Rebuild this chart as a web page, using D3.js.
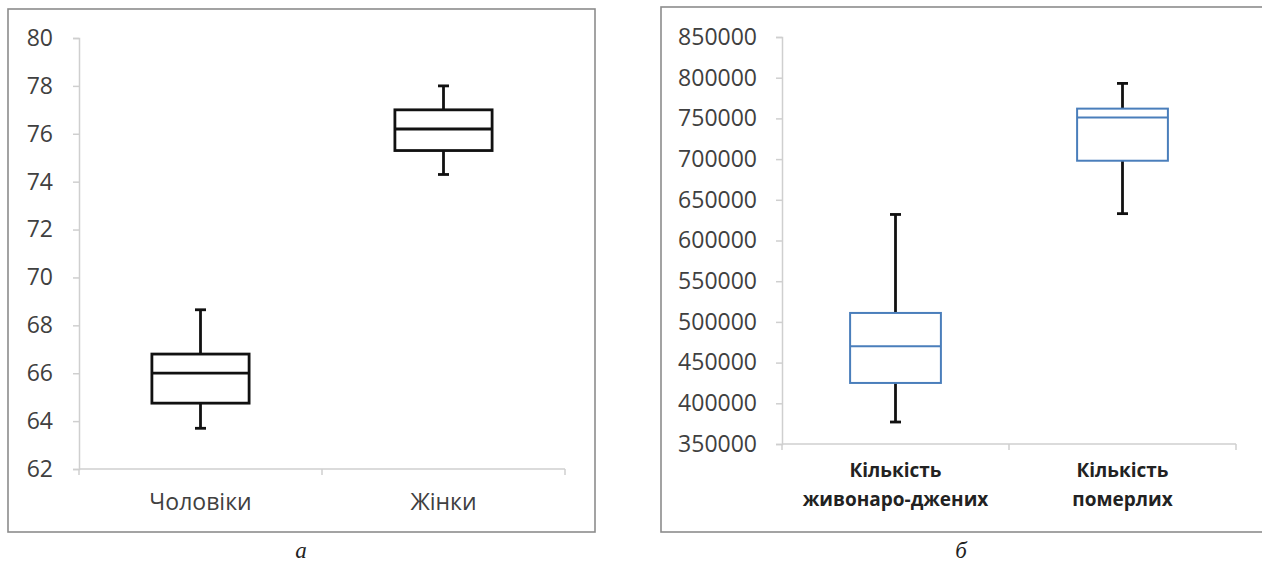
<!DOCTYPE html>
<html><head><meta charset="utf-8">
<script src="https://cdn.jsdelivr.net/npm/d3@7"></script>
<style>
html,body{margin:0;padding:0;background:#fff;overflow:hidden;}
svg{display:block;}
</style></head>
<body>
<svg id="c" width="1262" height="565"></svg>
<script>
// Chart (а)
const catsA = ["Чоловіки", "Жінки"];
const minA = [63.7, 74.3];
const q1A = [64.75, 75.3];
const medA = [66.0, 76.2];
const q3A = [66.8, 77.0];
const maxA = [68.65, 78.0];
const ticksA = [62, 64, 66, 68, 70, 72, 74, 76, 78, 80];

// Chart (б)
const catsB = [["Кількість", "живонаро-джених"], ["Кількість", "померлих"]];
const minB = [377000, 633000];
const q1B = [425000, 698000];
const medB = [470000, 751000];
const q3B = [511000, 762000];
const maxB = [632000, 793000];
const ticksB = [350000, 400000, 450000, 500000, 550000, 600000, 650000, 700000, 750000, 800000, 850000];

const svg = d3.select("#c");
const font = "'Open Sans', 'DejaVu Sans', sans-serif";

function panel(cfg) {
  const g = svg.append("g");
  g.append("rect").attr("x", cfg.frame[0]).attr("y", cfg.frame[1])
    .attr("width", cfg.frame[2]).attr("height", cfg.frame[3])
    .attr("fill", "none").attr("stroke", "#8c8c8c").attr("stroke-width", 1.6);

  const y = d3.scaleLinear().domain(cfg.domain).range([cfg.y1, cfg.y0]);
  const x = d3.scaleBand().domain(d3.range(cfg.n)).range([cfg.x0, cfg.x1]);

  const ya = g.append("g").attr("transform", `translate(${cfg.x0},0)`)
    .call(d3.axisLeft(y).tickValues(cfg.ticks).tickSize(6).tickPadding(cfg.pad).tickFormat(d3.format("d")));
  ya.select(".domain").attr("stroke", "#cfcfcf").attr("stroke-width", 1.5);
  ya.selectAll(".tick line").attr("stroke", "#cfcfcf").attr("stroke-width", 1.5);
  ya.selectAll(".tick text").attr("font-family", font).attr("font-size", cfg.fs)
    .attr("fill", "#404040");

  const xa = g.append("g").attr("transform", `translate(0,${cfg.y1})`);
  xa.append("line").attr("x1", cfg.x0).attr("x2", cfg.x1).attr("y1", 0).attr("y2", 0)
    .attr("stroke", "#cfcfcf").attr("stroke-width", 1.5);
  const bounds = d3.range(cfg.n + 1).map(i => i < cfg.n ? x(i) : x(cfg.n - 1) + x.bandwidth());
  xa.selectAll("line.tk").data(bounds).enter().append("line").attr("class", "tk")
    .attr("x1", d => d).attr("x2", d => d).attr("y1", 0).attr("y2", 6)
    .attr("stroke", "#cfcfcf").attr("stroke-width", 1.5);

  cfg.cats.forEach((c, i) => {
    const lines = Array.isArray(c) ? c : [c];
    const t = g.append("text").attr("x", x(i) + x.bandwidth() / 2).attr("y", cfg.labY)
      .attr("text-anchor", "middle").attr("font-family", font).attr("font-size", cfg.catFs)
      .attr("font-weight", cfg.catW).attr("fill", cfg.catFill);
    lines.forEach((l, k) => t.append("tspan").attr("x", x(i) + x.bandwidth() / 2)
      .attr("dy", k === 0 ? 0 : cfg.lh).text(l));
  });

  const bw = x.bandwidth() * 0.4, cap = 11;
  d3.range(cfg.n).forEach(i => {
    const cx = x(i) + x.bandwidth() / 2;
    const b = g.append("g");
    b.append("line").attr("x1", cx).attr("x2", cx).attr("y1", y(cfg.max[i])).attr("y2", y(cfg.q3[i]))
      .attr("stroke", "#111").attr("stroke-width", 2.8);
    b.append("line").attr("x1", cx).attr("x2", cx).attr("y1", y(cfg.q1[i])).attr("y2", y(cfg.min[i]))
      .attr("stroke", "#111").attr("stroke-width", 2.8);
    [cfg.max[i], cfg.min[i]].forEach(v => b.append("line")
      .attr("x1", cx - cap / 2).attr("x2", cx + cap / 2).attr("y1", y(v)).attr("y2", y(v))
      .attr("stroke", "#111").attr("stroke-width", 2.8));
    b.append("rect").attr("x", cx - bw / 2).attr("y", y(cfg.q3[i]))
      .attr("width", bw).attr("height", y(cfg.q1[i]) - y(cfg.q3[i]))
      .attr("fill", "#fff").attr("stroke", cfg.boxStroke).attr("stroke-width", cfg.boxW);
    b.append("line").attr("x1", cx - bw / 2).attr("x2", cx + bw / 2)
      .attr("y1", y(cfg.med[i])).attr("y2", y(cfg.med[i]))
      .attr("stroke", cfg.boxStroke).attr("stroke-width", cfg.boxW);
  });

  svg.append("text").attr("x", cfg.capX).attr("y", 558).attr("text-anchor", "middle")
    .attr("font-family", "'Liberation Serif', 'DejaVu Serif', serif").attr("font-style", "italic")
    .attr("font-size", 23).attr("fill", "#222").text(cfg.cap);
}

panel({
  frame: [8, 9, 587, 523], domain: [62, 80], ticks: ticksA, y0: 38, y1: 469, x0: 79, x1: 565,
  n: 2, cats: catsA, min: minA, q1: q1A, med: medA, q3: q3A, max: maxA,
  fs: 23, pad: 20, catFs: 23, catW: "normal", catFill: "#404040", labY: 510, lh: 0,
  boxStroke: "#111", boxW: 2.8, capX: 301, cap: "а"
});

panel({
  frame: [661, 7, 640, 525], domain: [350000, 850000], ticks: ticksB, y0: 37, y1: 444, x0: 782, x1: 1236,
  n: 2, cats: catsB, min: minB, q1: q1B, med: medB, q3: q3B, max: maxB,
  fs: 23, pad: 19, catFs: 19, catW: "bold", catFill: "#222", labY: 477, lh: 29,
  boxStroke: "#4a7ebb", boxW: 2, capX: 961, cap: "б"
});
</script>
</body></html>
